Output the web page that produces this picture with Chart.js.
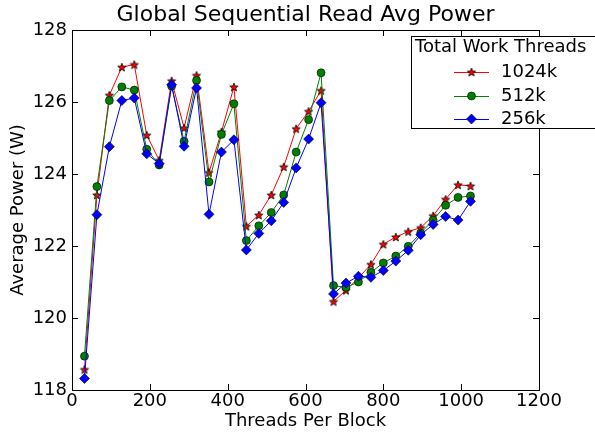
<!DOCTYPE html>
<html><head><meta charset="utf-8">
<script src="https://cdn.jsdelivr.net/npm/chart.js@4/dist/chart.umd.min.js"></script>
<style>html,body{margin:0;padding:0;background:#fff;}#wrap{width:595px;height:434px;}</style>
</head><body><div id="wrap"><canvas id="c" width="595" height="434"></canvas></div>
<script>
const threadsPerBlock = [32,64,96,128,160,192,224,256,288,320,352,384,416,448,480,512,544,576,608,640,672,704,736,768,800,832,864,896,928,960,992,1024];
const power1024k = [118.57,123.42,126.19,126.97,127.04,125.08,124.38,126.59,125.28,126.74,124.04,125.17,126.42,122.55,122.86,123.42,124.20,125.26,125.74,126.32,120.46,120.77,121.11,121.49,122.05,122.25,122.40,122.51,122.84,123.30,123.70,123.67];
const power512k = [118.94,123.65,126.04,126.42,126.33,124.69,124.25,126.44,124.91,126.60,123.78,125.10,125.95,122.15,122.56,122.93,123.42,124.61,125.51,126.81,120.90,120.85,121.00,121.27,121.53,121.72,121.99,122.36,122.72,123.13,123.35,123.39];
const power256k = [118.32,122.87,124.76,126.04,126.11,124.56,124.29,126.48,124.77,126.39,122.88,124.61,124.95,121.89,122.35,122.70,123.21,124.17,124.97,125.98,120.67,120.97,121.16,121.13,121.32,121.58,121.88,122.31,122.60,122.82,122.72,123.24];
const seriesLabels = ['1024k','512k','256k'];
const xTicks = [0,200,400,600,800,1000,1200];
const yTicks = [118,120,122,124,126,128];
const chartTitle = 'Global Sequential Read Avg Power';
const xTitle = 'Threads Per Block';
const yTitle = 'Average Power (W)';
const legendTitle = 'Total Work Threads';

const FONT = '"DejaVu Sans", sans-serif';
const FS = 18;

function makeStar(fill, r) {
  const s = Math.ceil(r * 2 + 3);
  const cv = document.createElement('canvas');
  cv.width = s; cv.height = s;
  const g = cv.getContext('2d');
  const cx = s / 2, cy = s / 2 + 0.5;
  g.beginPath();
  for (let i = 0; i < 10; i++) {
    const rr = i % 2 === 0 ? r : r * 0.42;
    const a = -Math.PI / 2 + i * Math.PI / 5;
    const px = cx + rr * Math.cos(a), py = cy + rr * Math.sin(a);
    if (i === 0) g.moveTo(px, py); else g.lineTo(px, py);
  }
  g.closePath();
  g.fillStyle = fill; g.fill();
  g.lineWidth = 0.8; g.strokeStyle = '#000'; g.stroke();
  return cv;
}
const starImg = makeStar('#ff0000', 4.4);

const toXY = arr => threadsPerBlock.map((x, i) => ({x: x, y: arr[i]}));

const styles = [
  {color:'#ff0000', point: starImg, radius: 4.5, order: 3},
  {color:'#008000', point: 'circle', radius: 4, order: 2},
  {color:'#0000ff', point: 'rectRot', radius: 5, order: 1}
];
const seriesData = [power1024k, power512k, power256k];

const datasets = seriesData.map((arr, i) => ({
  label: seriesLabels[i],
  data: toXY(arr),
  borderColor: styles[i].color,
  backgroundColor: styles[i].color,
  pointBackgroundColor: styles[i].color,
  pointBorderColor: '#000',
  pointBorderWidth: 0.6,
  pointStyle: styles[i].point,
  pointRadius: styles[i].radius,
  borderWidth: 1,
  tension: 0,
  order: styles[i].order
}));

const decor = {
  id: 'decor',
  afterDatasetsDraw(chart) {
    const ctx = chart.ctx;
    const a = chart.chartArea;
    const xs = chart.scales.x, ys = chart.scales.y;
    ctx.save();
    ctx.strokeStyle = '#000'; ctx.lineWidth = 1;
    const tl = 6;
    ctx.beginPath();
    xTicks.forEach(v => {
      const px = Math.round(xs.getPixelForValue(v)) + 0.5;
      ctx.moveTo(px, a.bottom); ctx.lineTo(px, a.bottom - tl);
      ctx.moveTo(px, a.top); ctx.lineTo(px, a.top + tl);
    });
    yTicks.forEach(v => {
      const py = Math.round(ys.getPixelForValue(v)) + 0.5;
      ctx.moveTo(a.left, py); ctx.lineTo(a.left + tl, py);
      ctx.moveTo(a.right, py); ctx.lineTo(a.right - tl, py);
    });
    ctx.stroke();
    ctx.strokeRect(Math.round(a.left) + 0.5, Math.round(a.top) + 0.5, Math.round(a.right - a.left), Math.round(a.bottom - a.top));
    ctx.fillStyle = '#000';
    ctx.textAlign = 'center'; ctx.textBaseline = 'middle';
    ctx.font = '22px ' + FONT;
    ctx.fillText(chartTitle, (a.left + a.right) / 2, 15);
    ctx.font = FS + 'px ' + FONT;
    ctx.fillText(xTitle, (a.left + a.right) / 2, 421);
    ctx.save();
    ctx.translate(18, (a.top + a.bottom) / 2);
    ctx.rotate(-Math.PI / 2);
    ctx.fillText(yTitle, 0, 0);
    ctx.restore();
    const lx = 411.5, ly = 36.5, lw = 200, lh = 92;
    ctx.fillStyle = '#fff';
    ctx.fillRect(lx, ly, lw, lh);
    ctx.strokeStyle = '#000'; ctx.lineWidth = 1;
    ctx.strokeRect(lx, ly, lw, lh);
    ctx.fillStyle = '#000';
    ctx.textAlign = 'left';
    ctx.font = FS + 'px ' + FONT;
    ctx.fillText(legendTitle, 415, 47);
    const rows = [72, 96, 119];
    seriesLabels.forEach((lab, i) => {
      const y = rows[i];
      ctx.strokeStyle = styles[i].color; ctx.lineWidth = 1;
      ctx.beginPath(); ctx.moveTo(454, y + 0.5); ctx.lineTo(489, y + 0.5); ctx.stroke();
      const mx = 471.5;
      if (i === 0) {
        ctx.drawImage(starImg, mx - starImg.width / 2, y - starImg.height / 2);
      } else if (i === 1) {
        ctx.beginPath(); ctx.arc(mx, y, 4, 0, Math.PI * 2);
        ctx.fillStyle = styles[i].color; ctx.fill();
        ctx.lineWidth = 0.6; ctx.strokeStyle = '#000'; ctx.stroke();
      } else {
        ctx.beginPath();
        ctx.moveTo(mx, y - 5); ctx.lineTo(mx + 5, y); ctx.lineTo(mx, y + 5); ctx.lineTo(mx - 5, y); ctx.closePath();
        ctx.fillStyle = styles[i].color; ctx.fill();
        ctx.lineWidth = 0.6; ctx.strokeStyle = '#000'; ctx.stroke();
      }
      ctx.fillStyle = '#000';
      ctx.fillText(lab, 501, y);
    });
    ctx.restore();
  }
};

new Chart(document.getElementById('c'), {
  type: 'line',
  data: { datasets: datasets },
  options: {
    responsive: false,
    devicePixelRatio: 1,
    animation: false,
    layout: { padding: { top: 30, right: 56, left: 0, bottom: 0 } },
    plugins: { legend: { display: false }, title: { display: false }, tooltip: { enabled: false } },
    scales: {
      x: {
        type: 'linear', min: 0, max: 1200,
        afterBuildTicks: s => { s.ticks = xTicks.map(v => ({value: v})); },
        afterFit: s => { s.height = 44; },
        grid: { display: false, drawTicks: false },
        border: { display: false },
        ticks: { font: { family: FONT, size: FS }, color: '#000', padding: 1, maxRotation: 0, autoSkip: false, callback: v => String(v) }
      },
      y: {
        type: 'linear', min: 118, max: 128,
        afterBuildTicks: s => { s.ticks = yTicks.map(v => ({value: v})); },
        afterFit: s => { s.width = 72; },
        grid: { display: false, drawTicks: false },
        border: { display: false },
        ticks: { font: { family: FONT, size: FS }, color: '#000', padding: 5, autoSkip: false, callback: v => String(v) }
      }
    }
  },
  plugins: [decor]
});
</script>
</body></html>
